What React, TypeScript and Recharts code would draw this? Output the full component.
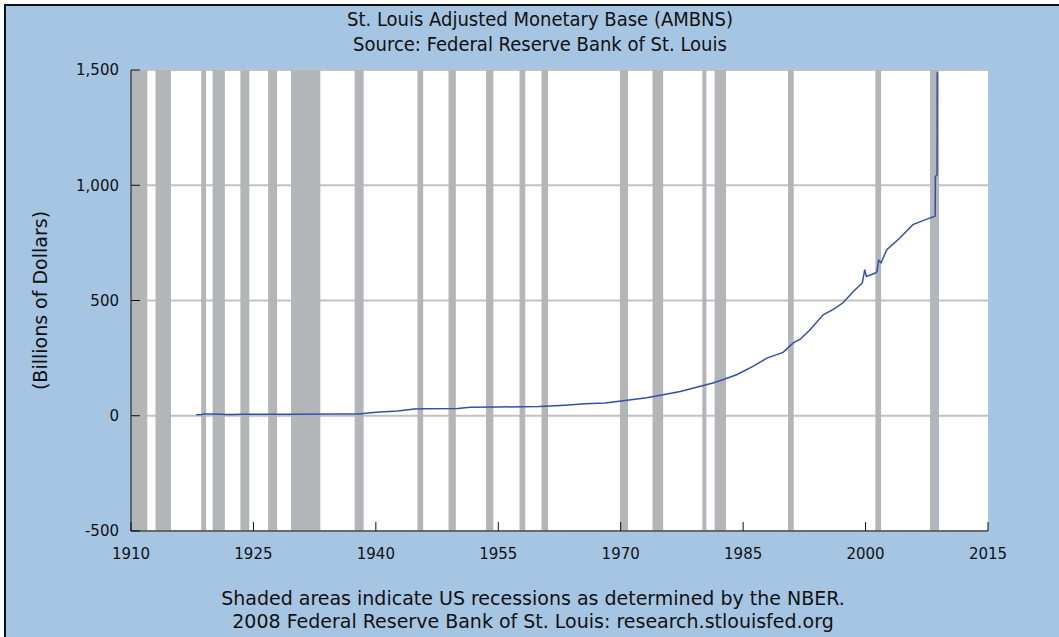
import { LineChart, Line, XAxis, YAxis, CartesianGrid, ReferenceArea } from "recharts";

// AMBNS, billions of dollars
const years = [
  1918.0, 1918.6, 1919.0, 1920.0, 1921.0, 1921.6, 1922.5, 1923.5, 1925, 1930, 1935, 1938,
  1939.3, 1940.5, 1942.7, 1944.7, 1946, 1950, 1951.6, 1955, 1960, 1962.6, 1964, 1965.6,
  1968.1, 1970.3, 1973.2, 1975.2, 1977.3, 1979.3, 1981.3, 1982.5, 1984.2, 1986.2, 1987.9,
  1989.9, 1991.1, 1992.0, 1993.2, 1994.8, 1996.0, 1997.2, 1998.5, 1999.6, 1999.9, 2000.1,
  2001.2, 2001.4, 2001.6, 2001.9, 2002.6, 2004.2, 2005.8, 2007.5, 2008.5, 2008.53, 2008.55,
  2008.76, 2008.78,
];
const values = [
  4, 5, 8, 8, 7, 5, 5, 7, 7, 7, 7.5, 8,
  13, 16, 21, 29, 30, 31, 37, 38, 40, 45, 48, 52,
  55, 65, 78, 91, 105, 124, 142, 156, 178, 214, 250,
  275, 315, 332, 373, 438, 460, 489, 539, 576, 634, 604,
  619, 626, 674, 664, 720, 771, 829, 853, 866, 872, 1038,
  1045, 1490,
];

// NBER recessions [start, end] as decimal years
const recessionStart = [
  1910.0, 1913.0, 1918.6, 1920.0, 1923.4, 1926.8, 1929.6, 1937.4, 1945.1, 1948.9, 1953.5,
  1957.6, 1960.3, 1969.9, 1973.9, 1980.0, 1981.5, 1990.5, 2001.2, 2007.9,
];
const recessionEnd = [
  1912.0, 1914.9, 1919.2, 1921.5, 1924.5, 1927.9, 1933.2, 1938.5, 1945.8, 1949.8, 1954.4,
  1958.3, 1961.1, 1970.9, 1975.2, 1980.5, 1982.9, 1991.2, 2001.9, 2009.0,
];

const xTicks = [1910, 1925, 1940, 1955, 1970, 1985, 2000, 2015];
const yTicks = [-500, 0, 500, 1000, 1500];

const data = years.map((year, i) => ({ year, value: values[i] }));

const tickFont = { fontFamily: "'DejaVu Sans', Verdana, sans-serif", fontSize: 15, fill: "#111" };

export default function App() {
  return (
    <div style={{ position: "absolute", left: 0, top: 0, width: 1059, height: 637, background: "#fff", overflow: "hidden" }}>
      <div
        style={{
          position: "absolute",
          left: 4,
          top: 4,
          right: 0,
          bottom: 0,
          background: "#A6C5E3",
          borderTop: "2px solid #111",
          borderLeft: "2px solid #111",
        }}
      />
      <div
        style={{
          position: "absolute",
          left: 0,
          width: 1080,
          top: 7,
          textAlign: "center",
          fontFamily: "'DejaVu Sans Condensed', 'DejaVu Sans', sans-serif",
          fontStretch: "condensed",
          fontSize: 20,
          lineHeight: "25px",
          color: "#111",
        }}
      >
        <div>St. Louis Adjusted Monetary Base (AMBNS)</div>
        <div>Source: Federal Reserve Bank of St. Louis</div>
      </div>
      <div style={{ position: "absolute", left: 0, top: 0 }}>
        <LineChart width={1059} height={637} data={data} margin={{ top: 70, right: 71, bottom: 76, left: 0 }}>
          <CartesianGrid vertical={false} stroke="#C2C2C2" strokeWidth={2} fill="#fff" fillOpacity={1} />
          {recessionStart.map((s, i) => (
            <ReferenceArea key={s} x1={s} x2={recessionEnd[i]} fill="#B3B6B9" fillOpacity={1} stroke="none" />
          ))}
          <XAxis
            dataKey="year"
            type="number"
            domain={[1910, 2015]}
            ticks={xTicks}
            interval={0}
            allowDataOverflow
            height={30}
            stroke="#111"
            tickSize={-9}
            tickMargin={26}
            tick={tickFont}
          />
          <YAxis
            type="number"
            domain={[-500, 1500]}
            ticks={yTicks}
            interval={0}
            width={131}
            stroke="#111"
            tickSize={-9}
            tickMargin={21}
            tick={tickFont}
            tickFormatter={(v: number) => v.toLocaleString("en-US")}
            label={{
              value: "(Billions of Dollars)",
              angle: -90,
              position: "insideLeft",
              offset: 40,
              style: { ...tickFont, fontSize: 19, textAnchor: "middle" },
            }}
          />
          <Line
            dataKey="value"
            type="linear"
            stroke="#3350A8"
            strokeWidth={1.5}
            dot={false}
            activeDot={false}
            isAnimationActive={false}
          />
        </LineChart>
      </div>
      <div
        style={{
          position: "absolute",
          left: 0,
          width: 1066,
          top: 587,
          textAlign: "center",
          fontFamily: "'DejaVu Sans', Verdana, sans-serif",
          fontSize: 19,
          lineHeight: "23px",
          color: "#111",
        }}
      >
        <div>Shaded areas indicate US recessions as determined by the NBER.</div>
        <div>2008 Federal Reserve Bank of St. Louis: research.stlouisfed.org</div>
      </div>
    </div>
  );
}
